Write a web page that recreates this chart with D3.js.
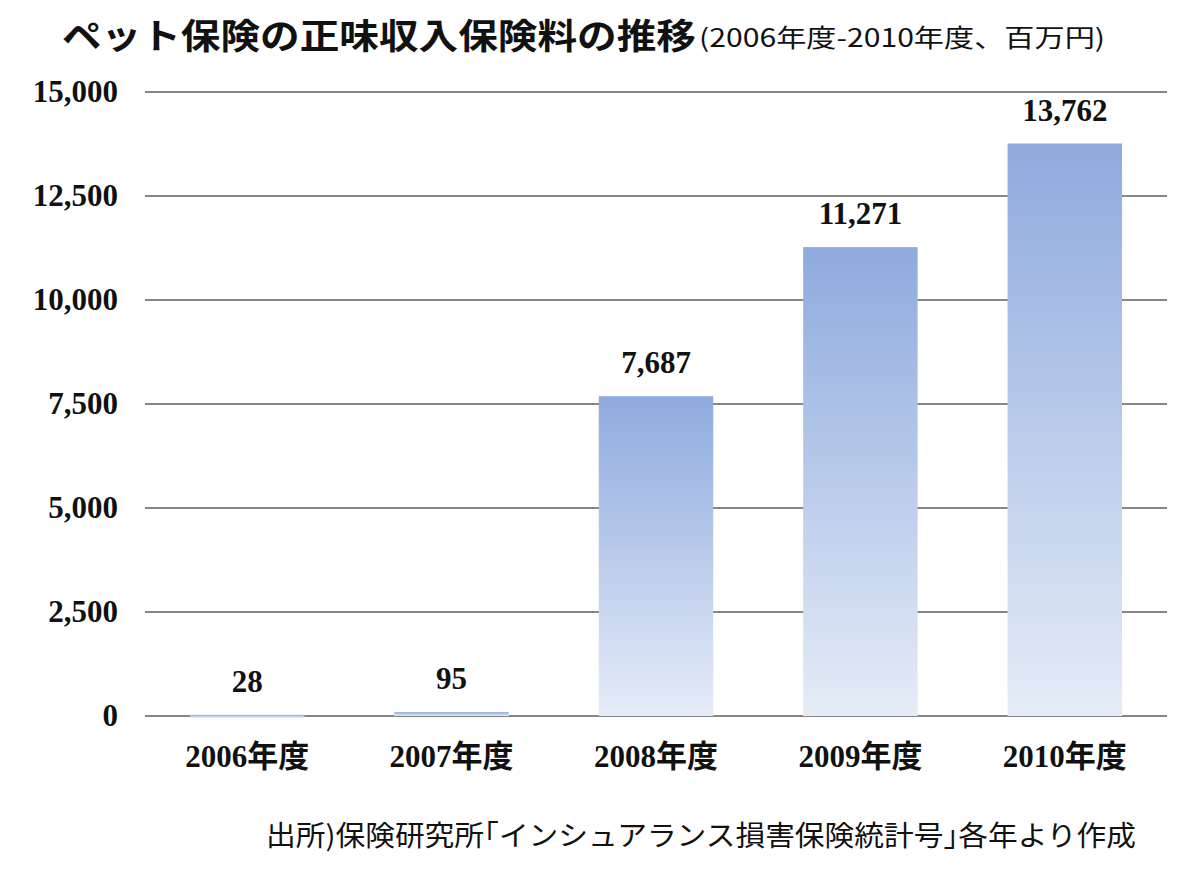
<!DOCTYPE html>
<html>
<head>
<meta charset="utf-8">
<script src="https://cdn.jsdelivr.net/npm/d3@7"></script>
<style>
  body { margin: 0; background: #fff; }
</style>
</head>
<body>
<div class="graphContainer"></div>
<script>
// Chart data
const years = ['2006年度', '2007年度', '2008年度', '2009年度', '2010年度'];
const premiums = [28, 95, 7687, 11271, 13762];
const yTicks = [0, 2500, 5000, 7500, 10000, 12500, 15000];

const titleText = 'ペット保険の正味収入保険料の推移';
const subtitleText = '(2006年度-2010年度、百万円)';
const sourceText = '出所)保険研究所｢インシュアランス損害保険統計号｣各年より作成';

const renderChart = () => {
    const W = 1200, H = 870;
    const plot = { left: 145, right: 1167, top: 92, bottom: 716 };

    const svg = d3.select('.graphContainer')
        .append('svg')
        .attr('width', W)
        .attr('height', H);

    // Gradient for bars
    const grad = svg.append('defs').append('linearGradient')
        .attr('id', 'barGrad')
        .attr('x1', 0).attr('y1', 0).attr('x2', 0).attr('y2', 1);
    grad.append('stop').attr('offset', '0%').attr('stop-color', '#8eaade');
    grad.append('stop').attr('offset', '100%').attr('stop-color', '#e6ecf7');

    // Scales
    const x = d3.scaleBand()
        .domain(years)
        .range([plot.left, plot.right])
        .paddingInner(0.44)
        .paddingOuter(0.22);

    const y = d3.scaleLinear()
        .domain([0, 15000])
        .range([plot.bottom, plot.top]);

    // Grid lines
    svg.append('g')
        .selectAll('line')
        .data(yTicks)
        .enter()
        .append('line')
        .attr('x1', plot.left)
        .attr('x2', plot.right)
        .attr('y1', d => y(d))
        .attr('y2', d => y(d))
        .attr('stroke', '#868686')
        .attr('stroke-width', 2);

    // Y axis labels
    const yAxis = svg.append('g')
        .attr('transform', 'translate(118,0)')
        .call(d3.axisLeft(y).tickValues(yTicks).tickFormat(d3.format(',')).tickSize(0).tickPadding(0));
    yAxis.select('.domain').remove();
    yAxis.selectAll('text')
        .attr('font-family', '"Liberation Serif", serif')
        .attr('font-weight', 'bold')
        .attr('font-size', 31)
        .attr('fill', '#111');

    // Bars
    svg.selectAll('.bar')
        .data(premiums)
        .enter()
        .append('rect')
        .attr('class', 'bar')
        .attr('x', (d, i) => x(years[i]))
        .attr('y', d => y(d))
        .attr('width', x.bandwidth())
        .attr('height', d => Math.max(3, y(0) - y(d)))
        .attr('fill', 'url(#barGrad)');

    // Value labels
    svg.selectAll('.val')
        .data(premiums)
        .enter()
        .append('text')
        .attr('class', 'val')
        .attr('x', (d, i) => x(years[i]) + x.bandwidth() / 2)
        .attr('y', d => y(d) - 23)
        .attr('text-anchor', 'middle')
        .attr('font-family', '"Liberation Serif", serif')
        .attr('font-weight', 'bold')
        .attr('font-size', 31)
        .attr('fill', '#111')
        .text(d => d3.format(',')(d));

    // X axis labels
    const xAxis = svg.append('g')
        .attr('transform', `translate(0,${plot.bottom + 51})`)
        .call(d3.axisBottom(x).tickSize(0).tickPadding(0));
    xAxis.select('.domain').remove();
    xAxis.selectAll('text')
        .attr('dy', 0)
        .attr('font-family', '"Liberation Serif", "Noto Sans CJK JP", serif')
        .attr('font-weight', 'bold')
        .attr('font-size', 31)
        .attr('fill', '#111');

    // Title
    svg.append('text')
        .attr('x', 62)
        .attr('y', 49)
        .attr('font-family', '"Noto Sans CJK JP", sans-serif')
        .attr('font-weight', 'bold')
        .attr('font-size', 35)
        .attr('textLength', 634)
        .attr('lengthAdjust', 'spacingAndGlyphs')
        .attr('fill', '#111')
        .text(titleText);

    svg.append('text')
        .attr('x', 699)
        .attr('y', 47)
        .attr('font-family', '"Noto Sans CJK JP", sans-serif')
        .attr('font-size', 25)
        .attr('textLength', 406)
        .attr('lengthAdjust', 'spacingAndGlyphs')
        .attr('fill', '#111')
        .text(subtitleText);

    // Source note
    svg.append('text')
        .attr('x', 266)
        .attr('y', 846)
        .attr('font-family', '"Noto Sans CJK JP", sans-serif')
        .attr('font-size', 28)
        .attr('textLength', 870)
        .attr('lengthAdjust', 'spacingAndGlyphs')
        .attr('fill', '#111')
        .text(sourceText);
}

renderChart();
</script>
</body>
</html>
